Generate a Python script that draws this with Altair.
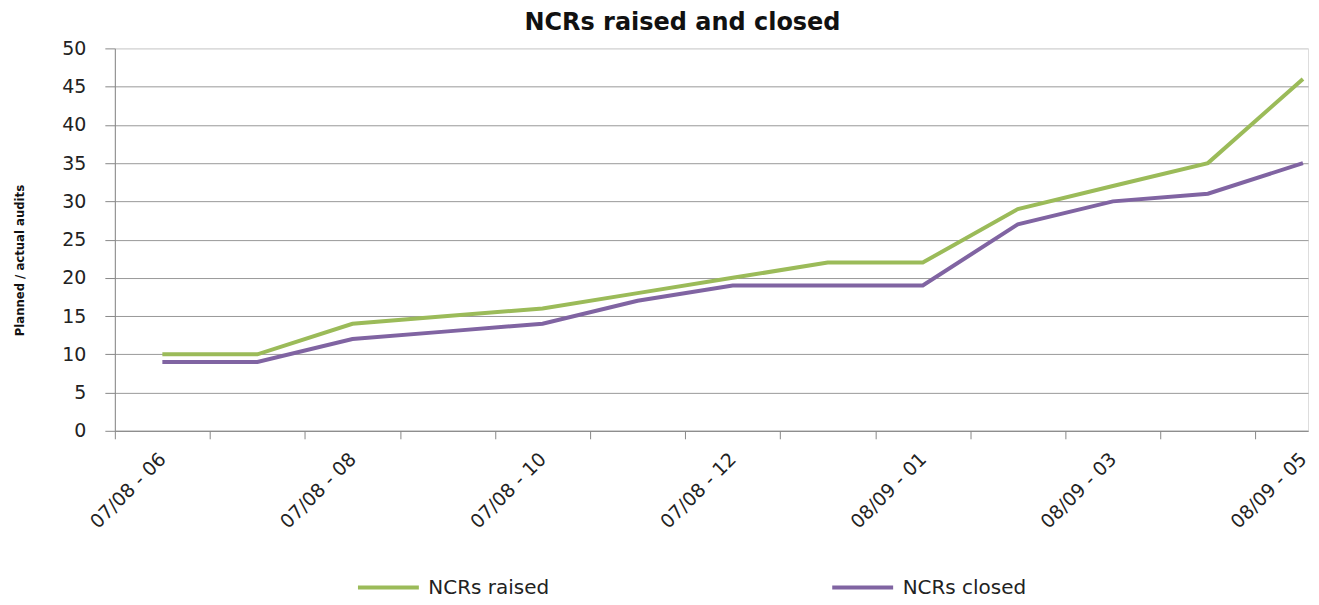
import json
import altair as alt
import pandas as pd

categories = ["07/08 - 06", "07/08 - 07", "07/08 - 08", "07/08 - 09", "07/08 - 10",
              "07/08 - 11", "07/08 - 12", "07/08 - 13", "08/09 - 01", "08/09 - 02",
              "08/09 - 03", "08/09 - 04", "08/09 - 05"]
raised = [10, 10, 14, 15, 16, 18, 20, 22, 22, 29, 32, 35, 46]
closed = [9, 9, 12, 13, 14, 17, 19, 19, 19, 27, 30, 31, 35]
series_names = ["NCRs raised", "NCRs closed"]
series_colors = ["#9BBB59", "#8064A2"]
y_ticks = list(range(0, 51, 5))

rows = []
for i, c in enumerate(categories):
    rows.append({"idx": i, "period": c, "series": series_names[0], "value": raised[i]})
    rows.append({"idx": i, "period": c, "series": series_names[1], "value": closed[i]})
df = pd.DataFrame(rows)

tick_values = []
for i in range(len(categories)):
    tick_values.append(i - 0.5)
    if i % 2 == 0:
        tick_values.append(i)

label_expr = "datum.value % 2 === 0 ? " + json.dumps(categories) + "[datum.value] : ''"

FONT = "DejaVu Sans"

x_axis = alt.Axis(
    values=tick_values, labelExpr=label_expr, labelAngle=-45, labelAlign="right",
    labelBaseline="middle", labelPadding=17, labelOverlap=False, labelFlush=False,
    grid=False, tickSize=8, tickColor="#888888", domainColor="#888888",
    tickOpacity={"condition": {"test": "datum.value % 1 === 0", "value": 0}, "value": 1},
    labelFont=FONT, labelFontSize=19, labelColor="#222222", title=None,
)

y_axis = alt.Axis(
    values=y_ticks, grid=True,
    gridColor={"condition": {"test": "datum.value === 50", "value": "#d4d4d4"}, "value": "#999999"},
    tickSize=10, tickColor="#888888",
    domainColor="#888888", labelPadding=19, labelFont=FONT, labelFontSize=19,
    labelColor="#222222", title="Planned / actual audits",
    titleFont="DejaVu Sans Condensed, Liberation Sans Narrow, DejaVu Sans",
    titleFontSize=13, titleFontWeight="bold", titleColor="#111111",
    titleX=-95, titleY=212, titleAlign="center", titleBaseline="middle", titleAngle=270,
)

legend = alt.Legend(
    title=None, orient="none", legendX=262, legendY=528, direction="horizontal",
    columns=2, symbolType="M-3.05,0L3.05,0", symbolSize=400, symbolStrokeWidth=4,
    labelFont=FONT, labelFontSize=20, labelColor="#222222", columnPadding=274,
    labelOffset=28, padding=0,
)

chart = alt.Chart(df).mark_line(strokeWidth=4).encode(
    x=alt.X("idx:Q", scale=alt.Scale(domain=[-0.5, 12.053], nice=False, zero=False), axis=x_axis),
    y=alt.Y("value:Q", scale=alt.Scale(domain=[0, 50], nice=False), axis=y_axis),
    color=alt.Color("series:N", scale=alt.Scale(domain=series_names, range=series_colors), legend=legend),
    order="idx:Q",
).properties(
    width=1195, height=383,
    title=alt.Title("NCRs raised and closed", font=FONT, fontSize=24, fontWeight="bold",
                    color="#111111", anchor="middle", frame="group", dx=-29, offset=4),
    padding={"left": 6, "top": 3, "right": 0, "bottom": 0},
).configure_view(stroke=None).configure(background="white")

chart.save("out.html", embed_options={"renderer": "svg", "actions": False})
